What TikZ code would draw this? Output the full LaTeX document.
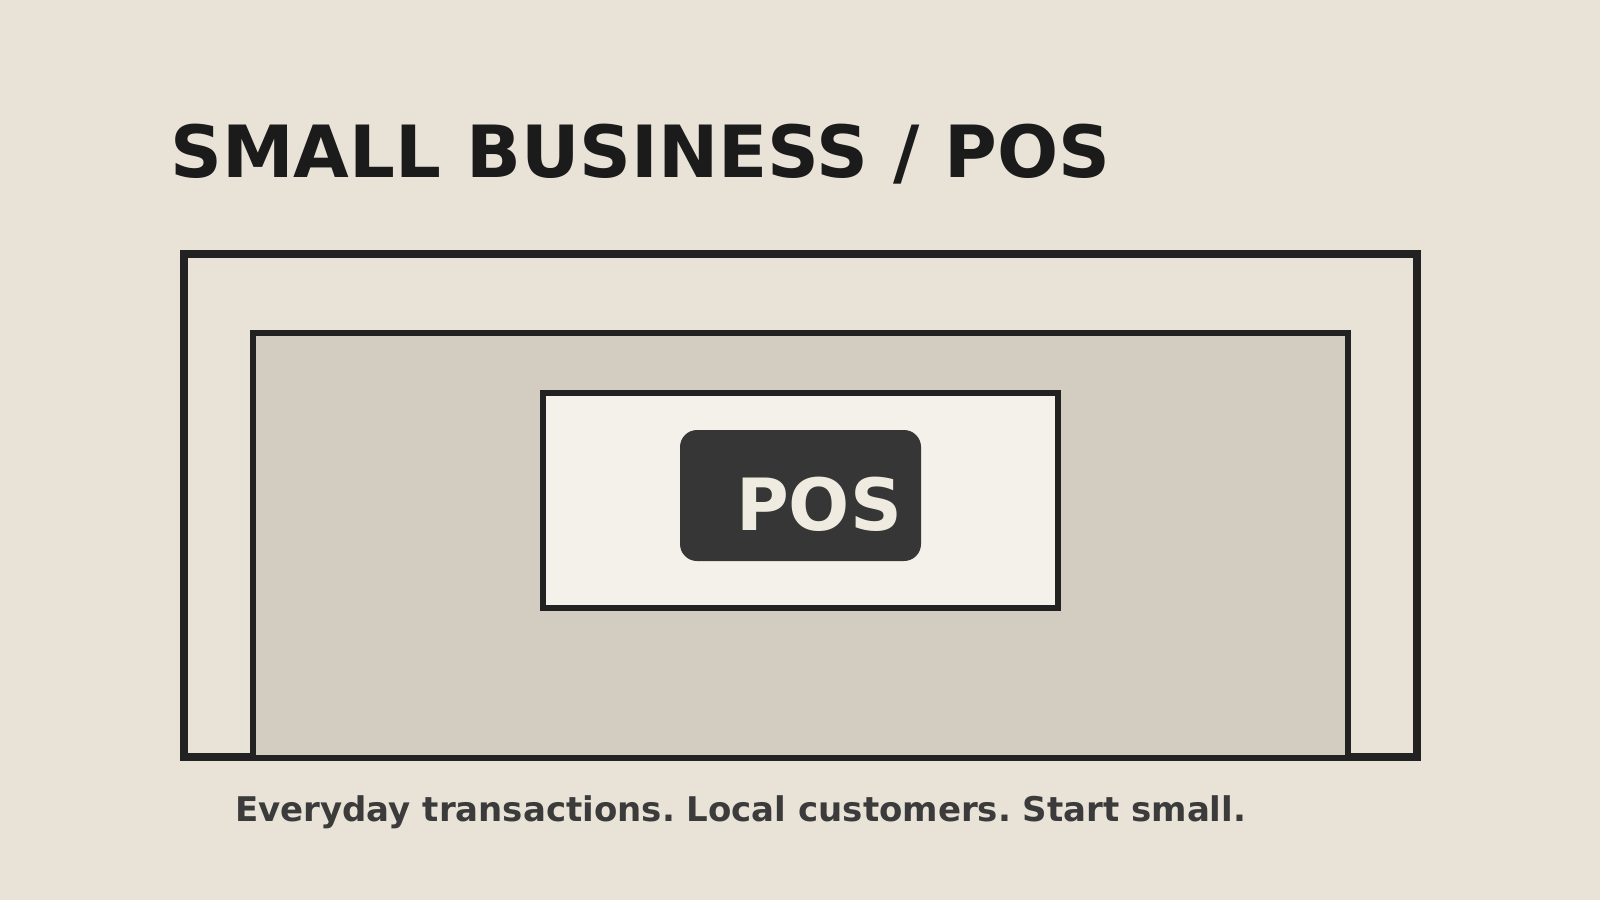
\documentclass[tikz,border=0pt]{standalone}
\usepackage{fontspec}
\setmainfont{DejaVu Sans}
\usepackage{tikz}
\usetikzlibrary{positioning,shapes}
\definecolor{paper}{HTML}{E8E2D7}
\definecolor{counter}{HTML}{D3CCC0}
\definecolor{screen}{HTML}{F4F1EA}
\definecolor{ink}{HTML}{222222}
\definecolor{badge}{HTML}{363636}
\definecolor{badgetext}{HTML}{F0EBE0}
\tikzset{
  frame/.style={
    rectangle,
    draw=ink, line width=8pt,
    inner sep=0pt},
  shopbox/.style={
    rectangle,
    draw=ink, line width=6pt,
    inner sep=0pt},
  posbadge/.style={
    rectangle,
    rounded corners=17pt,
    fill=badge,
    inner sep=0pt},
  heading/.style={
    anchor=base west, inner sep=0pt,
    text=ink!80!black, font=\bfseries\fontsize{72}{80}\selectfont},
  tagline/.style={
    anchor=base west, inner sep=0pt,
    text=black!77, font=\bfseries\fontsize{34}{40}\selectfont},
}
\frenchspacing

\begin{document}
\begin{tikzpicture}
  [x=1pt, y=-1pt]
     \path[fill=paper, use as bounding box] (0,0) rectangle (1600,900);
     \node[heading] (titel) at (170,177) {SMALL BUSINESS / POS};
     \node[frame, minimum width=1233pt, minimum height=503pt] (aussen) at (800.5,505.5) {};
     \node[shopbox, fill=counter, minimum width=1095pt, minimum height=425pt] (laden) at (800.5,545.5) {};
     \node[shopbox, fill=screen, minimum width=515pt, minimum height=215pt] (kasse) at (800.5,500.5) {};
     \node[posbadge, minimum width=241pt, minimum height=131pt] (marke) at ([yshift=5pt]kasse.center) {};
     \node[anchor=base, inner sep=0pt, text=badgetext, font=\bfseries\fontsize{72}{80}\selectfont] (pos) at (819,530.5) {POS};
     \node[tagline] (motto) at (235,821) {Everyday transactions. Local customers. Start small.};
\end{tikzpicture}
\end{document}
